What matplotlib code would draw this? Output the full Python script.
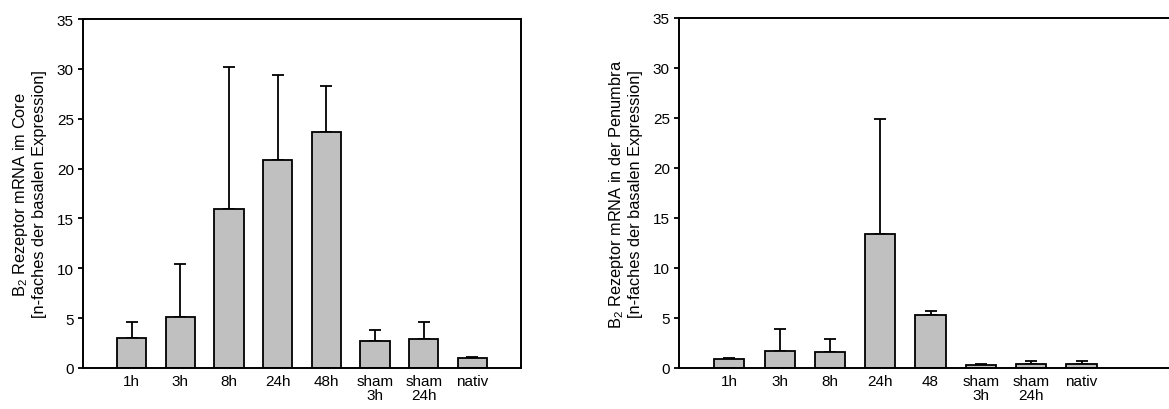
import numpy as np
import matplotlib
matplotlib.use('Agg')
import matplotlib.pyplot as plt

plt.rcParams['font.family'] = ['Liberation Sans', 'DejaVu Sans']
plt.rcParams['mathtext.default'] = 'regular'
plt.rcParams['font.size'] = 11

# Daten
core_labels = ['1h', '3h', '8h', '24h', '48h', 'sham\n3h', 'sham\n24h', 'nativ']
core_mean = [3.0, 5.1, 15.9, 20.9, 23.65, 2.75, 2.95, 1.0]
core_err = [1.6, 5.3, 14.3, 8.5, 4.65, 1.05, 1.7, 0.1]

pen_labels = ['1h', '3h', '8h', '24h', '48', 'sham\n3h', 'sham\n24h', 'nativ']
pen_mean = [0.93, 1.7, 1.63, 13.35, 5.3, 0.33, 0.4, 0.37]
pen_err = [0.05, 2.15, 1.27, 11.5, 0.4, 0.07, 0.27, 0.3]

fig = plt.figure(figsize=(11.69, 4.10), dpi=100)
ax1 = fig.add_axes([0.071, 0.10, 0.3747, 0.851])
ax2 = fig.add_axes([0.5808, 0.10, 0.452, 0.8537])


def draw(ax, labels, mean, err, ylabel, xmax):
    x = np.arange(1, len(labels) + 1)
    ax.bar(x, mean, width=0.6, color='#c0c0c0', edgecolor='black', linewidth=1.3, zorder=2)
    ax.errorbar(x, mean, yerr=[np.zeros(len(err)), err], fmt='none', ecolor='black',
                elinewidth=1.3, capsize=4, capthick=1.3, zorder=1)
    ax.set_xlim(0, xmax)
    ax.set_ylim(0, 35)
    ax.set_yticks(np.arange(0, 36, 5))
    ax.set_xticks(x)
    ax.set_xticklabels(labels, linespacing=1.05)
    ax.tick_params(axis='x', length=0, pad=4)
    ax.tick_params(axis='y', length=3.6, width=1.3, direction='out', pad=3)
    for s in ax.spines.values():
        s.set_linewidth(1.4)
    ax.set_ylabel(ylabel, fontsize=11.8, linespacing=1.2, labelpad=7)


draw(ax1, core_labels, core_mean, core_err,
     'B$_2$ Rezeptor mRNA im Core\n[n-faches der basalen Expression]', 9)
draw(ax2, pen_labels, pen_mean, pen_err,
     'B$_2$ Rezeptor mRNA in der Penumbra\n[n-faches der basalen Expression]', 10.5)

plt.savefig('out.png', dpi=100)
